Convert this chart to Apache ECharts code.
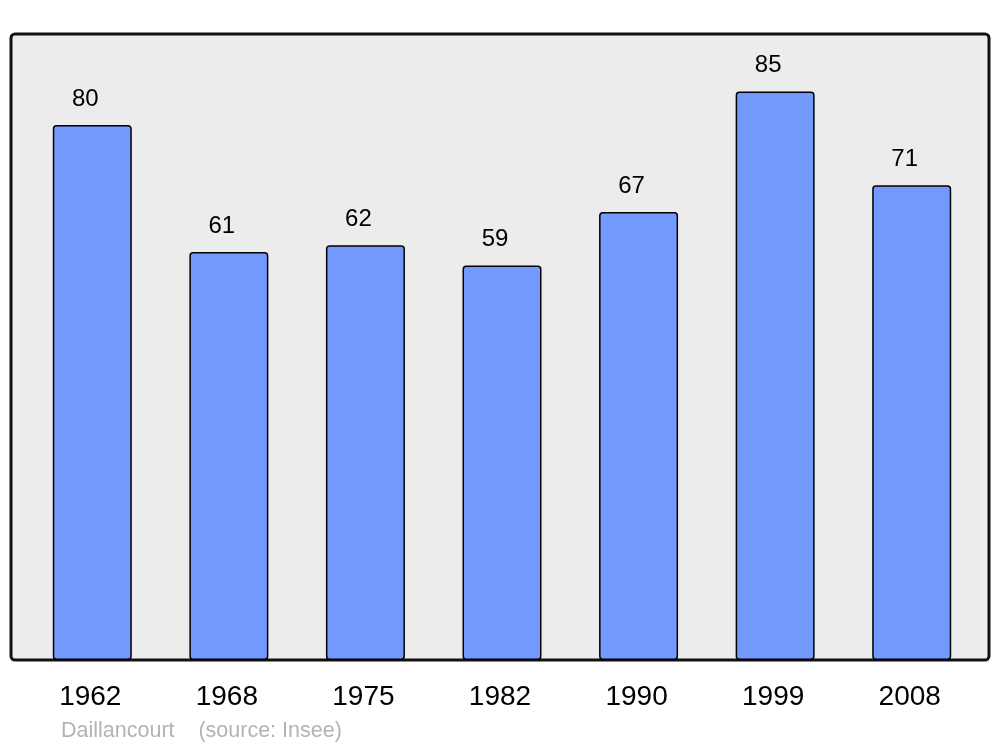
<!DOCTYPE html>
<html>
<head>
<meta charset="utf-8">
<script src="https://cdn.jsdelivr.net/npm/echarts@6/dist/echarts.min.js"></script>
<style>html,body{margin:0;padding:0;background:#fff}#c{width:1000px;height:747px}</style>
</head>
<body>
<div id="c"></div>
<script>
const years = ['1962','1968','1975','1982','1990','1999','2008'];
const population = [80, 61, 62, 59, 67, 85, 71];
const sourceText = 'Daillancourt    (source: Insee)';

const chart = echarts.init(document.getElementById('c'), null, {renderer: 'canvas'});
chart.setOption({
  animation: false,
  textStyle: {fontFamily: 'Liberation Sans, Arial, sans-serif'},
  title: {
    text: sourceText,
    left: 61, top: 720, padding: 0,
    textStyle: {fontSize: 21.5, fontWeight: 'normal', color: '#b3b3b3', fontFamily: 'Liberation Sans, Arial, sans-serif'}
  },
  graphic: [{
    type: 'rect', z: -10, silent: true,
    shape: {x: 11, y: 34, width: 978, height: 626, r: 4},
    style: {fill: '#ececec', stroke: '#111', lineWidth: 3}
  }],
  grid: {left: 24, right: 20, top: 34, bottom: 87},
  xAxis: {
    type: 'category', data: years,
    axisLine: {show: false}, axisTick: {show: false},
    axisLabel: {fontSize: 28, color: '#000', margin: 23, padding: [0, 4, 0, 0], fontFamily: 'Liberation Sans, Arial, sans-serif'}
  },
  yAxis: {type: 'value', min: 0, max: 93.6, show: false, splitLine: {show: false}},
  series: [{
    type: 'bar', data: population, barWidth: 79,
    itemStyle: {color: '#7399ff', borderColor: '#000', borderWidth: 1.5, borderRadius: 3},
    label: {show: true, position: 'top', distance: 14, offset: [-7, 0], fontSize: 24, color: '#000', fontFamily: 'Liberation Sans, Arial, sans-serif'}
  }]
});
</script>
</body>
</html>
